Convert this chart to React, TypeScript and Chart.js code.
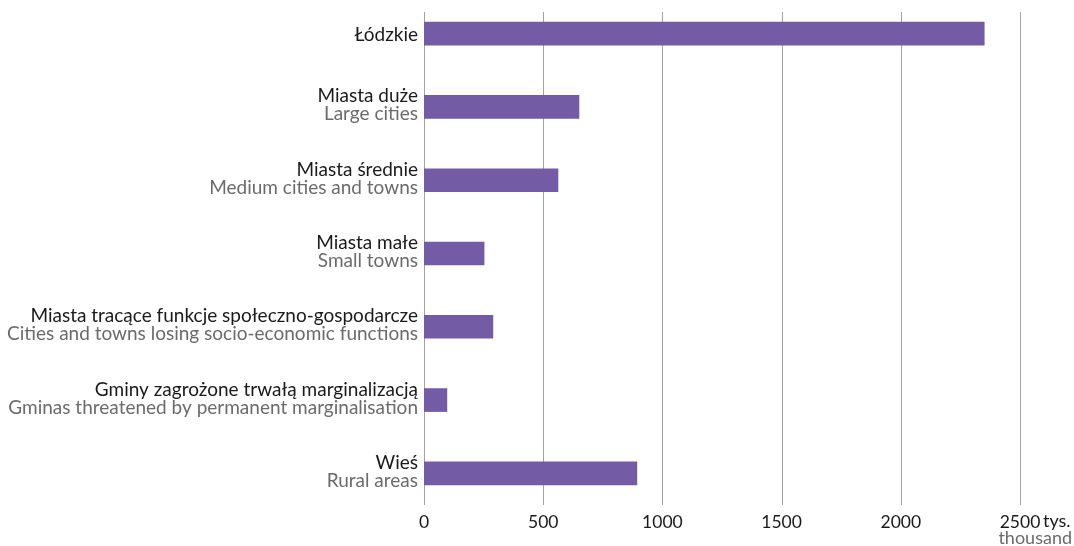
import React, { useEffect, useRef } from "react";
import { Chart, registerables } from "chart.js";

Chart.register(...registerables);

const labelsPl = [
  "Łódzkie",
  "Miasta duże",
  "Miasta średnie",
  "Miasta małe",
  "Miasta tracące funkcje społeczno-gospodarcze",
  "Gminy zagrożone trwałą marginalizacją",
  "Wieś",
];
const labelsEn = [
  "",
  "Large cities",
  "Medium cities and towns",
  "Small towns",
  "Cities and towns losing socio-economic functions",
  "Gminas threatened by permanent marginalisation",
  "Rural areas",
];
const values = [2350, 650, 562, 252, 289, 96, 893];
const xTicks = [0, 500, 1000, 1500, 2000, 2500];
const unitPl = "tys.";
const unitEn = "thousand";

const FONT = "Lato";
const BAR = "#735ca5";
const DARK = "#1a1a1a";
const GREY = "#6b6b6b";
const SHIFT = 20; // canvas is shifted up by this many px

export default function App() {
  const ref = useRef<HTMLCanvasElement | null>(null);

  useEffect(() => {
    if (!ref.current) return;

    const overlay = {
      id: "overlay",
      beforeDatasetsDraw(chart: any) {
        const ctx = chart.ctx;
        const xs = chart.scales.x;
        ctx.save();
        ctx.strokeStyle = "#a3a3a3";
        ctx.lineWidth = 1;
        xTicks.forEach((t) => {
          const x = Math.round(xs.getPixelForValue(t)) + 0.5;
          ctx.beginPath();
          ctx.moveTo(x, 12 + SHIFT);
          ctx.lineTo(x, 505 + SHIFT);
          ctx.stroke();
        });
        ctx.restore();
      },
      afterDraw(chart: any) {
        const ctx = chart.ctx;
        const ys = chart.scales.y;
        const xs = chart.scales.x;
        ctx.save();
        ctx.font = `19px ${FONT}`;
        ctx.textAlign = "right";
        ctx.textBaseline = "alphabetic";
        const right = xs.getPixelForValue(0) - 6;
        labelsPl.forEach((pl, i) => {
          const y = ys.getPixelForValue(i);
          const en = labelsEn[i];
          if (en) {
            ctx.fillStyle = DARK;
            ctx.fillText(pl, right, y - 4.5);
            ctx.fillStyle = GREY;
            ctx.fillText(en, right, y + 13.5);
          } else {
            ctx.fillStyle = DARK;
            ctx.fillText(pl, right, y + 7);
          }
        });
        const xe = xs.getPixelForValue(2500);
        ctx.font = `18px ${FONT}`;
        ctx.textAlign = "left";
        ctx.fillStyle = DARK;
        ctx.fillText(unitPl, xe + 23, 527 + SHIFT);
        ctx.textAlign = "right";
        ctx.fillStyle = GREY;
        ctx.fillText(unitEn, xe + 52, 544 + SHIFT);
        ctx.restore();
      },
    };

    const chart = new Chart(ref.current, {
      type: "bar",
      data: {
        labels: labelsPl,
        datasets: [
          {
            data: values,
            backgroundColor: BAR,
            borderWidth: 0,
            barThickness: 23,
          },
        ],
      },
      options: {
        indexAxis: "y",
        animation: false,
        responsive: false,
        maintainAspectRatio: false,
        layout: { padding: { left: 424, right: 54, top: 17, bottom: 0 } },
        plugins: {
          legend: { display: false },
          tooltip: { enabled: false },
        },
        scales: {
          x: {
            type: "linear",
            min: 0,
            max: 2500,
            afterFit: (s: any) => {
              s.height = 36;
            },
            afterBuildTicks: (s: any) => {
              s.ticks = xTicks.map((v) => ({ value: v }));
            },
            grid: { display: false, drawTicks: false },
            border: { display: false },
            ticks: {
              padding: 2,
              color: DARK,
              font: { family: FONT, size: 17.5 },
              maxRotation: 0,
              autoSkip: false,
              callback: (v: any) => String(v),
            },
          },
          y: {
            type: "category",
            grid: { display: false, drawTicks: false },
            border: { display: false },
            ticks: { display: false },
            afterFit: (s: any) => {
              s.width = 0;
            },
          },
        },
      },
      plugins: [overlay],
    });
    return () => chart.destroy();
  }, []);

  return (
    <div style={{ position: "absolute", left: 0, top: -SHIFT, width: 1074, height: 546 + SHIFT }}>
      <canvas ref={ref} width={1074} height={546 + SHIFT} style={{ display: "block" }} />
    </div>
  );
}
